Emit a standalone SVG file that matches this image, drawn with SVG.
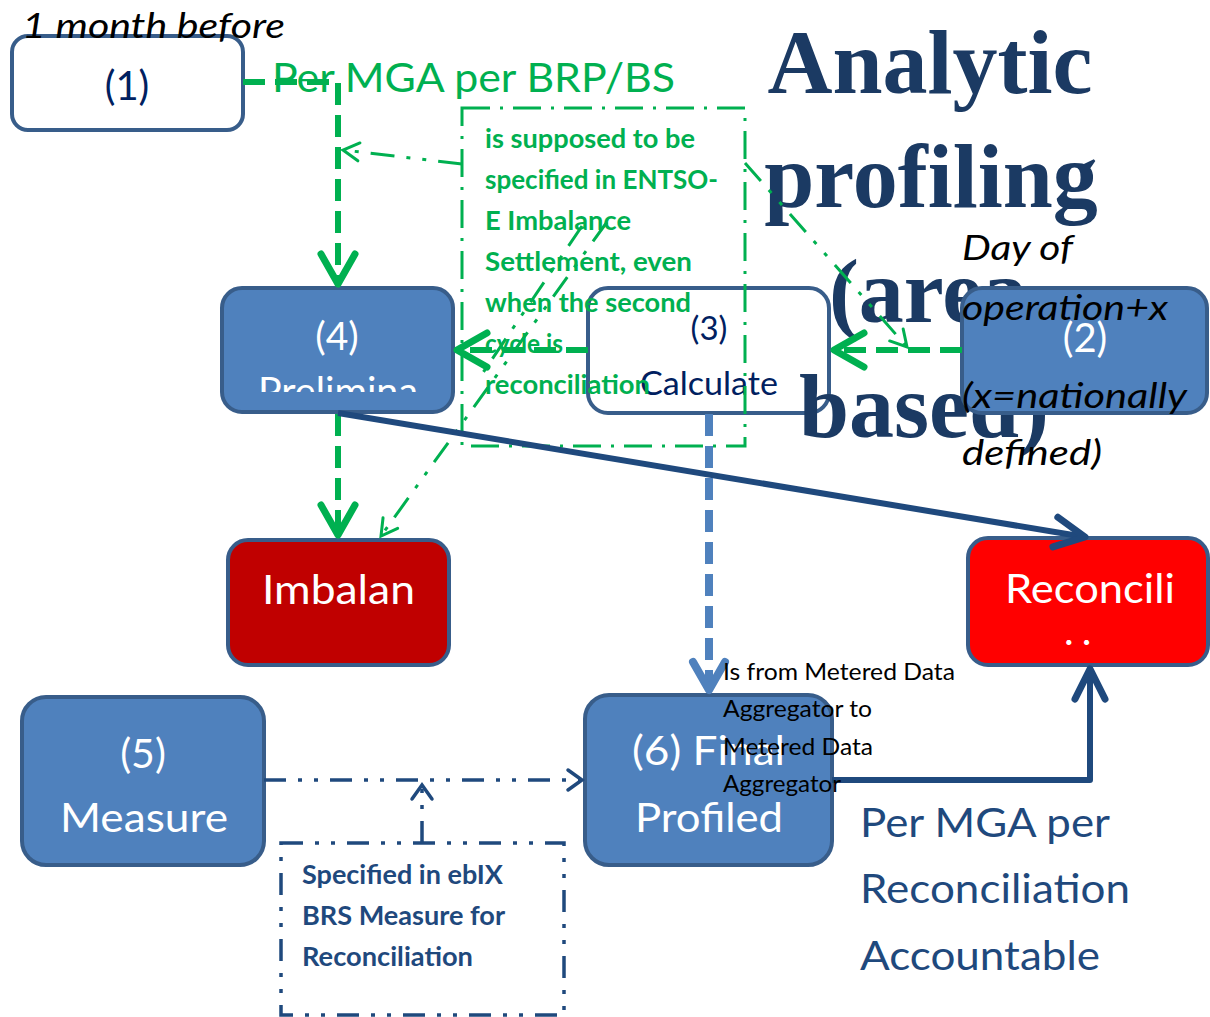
<svg xmlns="http://www.w3.org/2000/svg" width="1210" height="1017" viewBox="0 0 1210 1017">
<style>
.box{stroke:#385d8a;stroke-width:4}
.blue{fill:#4f81bd}
.wht{fill:#ffffff}
.t{font-family:Lato,"Open Sans","Liberation Sans",sans-serif}
.w{fill:#ffffff}
.nv{fill:#002060}
.gb{font-family:Lato,"Open Sans","Liberation Sans",sans-serif;font-weight:bold;font-size:26px;fill:#00b050}
.nb{font-family:Lato,"Open Sans","Liberation Sans",sans-serif;font-weight:bold;font-size:26px;fill:#1f497d}
.it{font-family:Lato,"Open Sans","Liberation Sans",sans-serif;font-style:italic;font-size:34px;fill:#000000}
.title{font-family:"Liberation Serif","Times New Roman",serif;font-weight:bold;font-size:90px;fill:#1b3a63}
.gthick{fill:none;stroke:#00b050;stroke-width:6;stroke-dasharray:22 10}
.gthin{fill:none;stroke:#00b050;stroke-width:3;stroke-dasharray:24 12 4 12 4 12}
.nthick{fill:none;stroke:#1f497d;stroke-width:6;stroke-linejoin:round}
.nthin{fill:none;stroke:#1f497d;stroke-width:3.5;stroke-dasharray:22 12 4 12 4 12}
.bdash{fill:none;stroke:#4f81bd;stroke-width:8;stroke-dasharray:22 10}
</style>
<defs>
<marker id="gA" markerUnits="userSpaceOnUse" viewBox="-40 -25 45 50" refX="0" refY="0" markerWidth="45" markerHeight="50" orient="auto" overflow="visible">
<path d="M-30,-17 L0,0 L-30,17" fill="none" stroke="#00b050" stroke-width="7" stroke-linecap="round" stroke-linejoin="round"/>
</marker>
<marker id="gS" markerUnits="userSpaceOnUse" viewBox="-20 -12 25 24" refX="0" refY="0" markerWidth="25" markerHeight="24" orient="auto" overflow="visible">
<path d="M-16,-9 L0,0 L-16,9" fill="none" stroke="#00b050" stroke-width="3" stroke-linecap="round"/>
</marker>
<marker id="nA" markerUnits="userSpaceOnUse" viewBox="-40 -25 45 50" refX="0" refY="0" markerWidth="45" markerHeight="50" orient="auto" overflow="visible">
<path d="M-30,-15 L0,0 L-30,15" fill="none" stroke="#1f497d" stroke-width="7" stroke-linecap="round" stroke-linejoin="round"/>
</marker>
<marker id="bA" markerUnits="userSpaceOnUse" viewBox="-40 -25 45 50" refX="0" refY="0" markerWidth="45" markerHeight="50" orient="auto" overflow="visible">
<path d="M-28,-16 L0,0 L-28,16" fill="none" stroke="#4f81bd" stroke-width="8" stroke-linecap="round" stroke-linejoin="round"/>
</marker>
<marker id="nS" markerUnits="userSpaceOnUse" viewBox="-20 -12 25 24" refX="0" refY="0" markerWidth="25" markerHeight="24" orient="auto" overflow="visible">
<path d="M-14,-10 L0,0 L-14,10" fill="none" stroke="#1f497d" stroke-width="3.5" stroke-linecap="round"/>
</marker>
<clipPath id="clip4"><rect x="222" y="288" width="231" height="104"/></clipPath>
</defs>

<g id="node-1">
<rect class="box wht" x="12" y="36" width="231" height="94" rx="16"/>
<text class="t nv" x="127" y="100" font-size="40" text-anchor="middle">(1)</text>
</g>

<g id="node-4">
<rect class="box blue" x="222" y="288" width="231" height="124" rx="20"/>
<text class="t w" x="337" y="350" font-size="39" text-anchor="middle">(4)</text>
<text class="t w" x="258" y="405" font-size="38" textLength="160" lengthAdjust="spacingAndGlyphs" clip-path="url(#clip4)">Prelimina</text>
</g>

<g id="node-3">
<rect class="box wht" x="588" y="288" width="241" height="125" rx="20"/>
<text class="t nv" x="709" y="340" font-size="33" text-anchor="middle">(3)</text>
<text class="t nv" x="640" y="395" font-size="33" textLength="138" lengthAdjust="spacingAndGlyphs">Calculate</text>
</g>

<g id="title">
<text class="title" x="930" y="93" text-anchor="middle">Analytic</text>
<text class="title" x="931" y="207" text-anchor="middle">profiling</text>
<text class="title" x="928" y="322" text-anchor="middle">(area</text>
<text class="title" x="924" y="437" text-anchor="middle">based)</text>
</g>

<g id="node-2">
<rect class="box blue" x="962" y="288" width="245" height="125" rx="20"/>
<text class="t w" x="1085" y="352" font-size="40" text-anchor="middle">(2)</text>
</g>

<g id="node-imbalance">
<rect class="box" fill="#c00000" x="228" y="540" width="221" height="125" rx="20"/>
<text class="t w" x="262" y="604" font-size="41" textLength="153" lengthAdjust="spacingAndGlyphs">Imbalan</text>
</g>

<g id="node-reconciliation">
<rect class="box" fill="#ff0000" x="968" y="538" width="240" height="127" rx="20"/>
<text class="t w" x="1005" y="603" font-size="41" textLength="170" lengthAdjust="spacingAndGlyphs">Reconcili</text>
<text class="t w" x="1064" y="645" font-size="41" letter-spacing="8">..</text>
</g>

<g id="node-5">
<rect class="box blue" x="22" y="697" width="242" height="168" rx="24"/>
<text class="t w" x="143" y="768" font-size="41" text-anchor="middle">(5)</text>
<text class="t w" x="60" y="832" font-size="41" textLength="168" lengthAdjust="spacingAndGlyphs">Measure</text>
</g>

<g id="node-6">
<rect class="box blue" x="585" y="695" width="247" height="170" rx="24"/>
<text class="t w" x="632" y="765" font-size="41" textLength="153" lengthAdjust="spacingAndGlyphs">(6) Final</text>
<text class="t w" x="635" y="832" font-size="41" textLength="148" lengthAdjust="spacingAndGlyphs">Profiled</text>
</g>

<g id="note-entsoe">
<rect x="462" y="108" width="283" height="338" fill="none" stroke="#00b050" stroke-width="3" stroke-dasharray="28 10 3 10"/>
<text class="gb" x="485" y="148" textLength="210" lengthAdjust="spacingAndGlyphs">is supposed to be</text>
<text class="gb" x="485" y="189" textLength="233" lengthAdjust="spacingAndGlyphs">specified in ENTSO-</text>
<text class="gb" x="485" y="230" textLength="146" lengthAdjust="spacingAndGlyphs">E Imbalance</text>
<text class="gb" x="485" y="271" textLength="207" lengthAdjust="spacingAndGlyphs">Settlement, even</text>
<text class="gb" x="485" y="312" textLength="206" lengthAdjust="spacingAndGlyphs">when the second</text>
<text class="gb" x="485" y="353" textLength="78" lengthAdjust="spacingAndGlyphs">cycle is</text>
<text class="gb" x="485" y="394" textLength="165" lengthAdjust="spacingAndGlyphs">reconciliation</text>
</g>

<g id="note-ebix">
<rect x="281" y="843" width="283" height="172" fill="none" stroke="#1f497d" stroke-width="3.5" stroke-dasharray="22 12 4 12 4 12"/>
<text class="nb" x="302" y="884" textLength="201" lengthAdjust="spacingAndGlyphs">Specified in ebIX</text>
<text class="nb" x="302" y="925" textLength="203" lengthAdjust="spacingAndGlyphs">BRS Measure for</text>
<text class="nb" x="302" y="966" textLength="171" lengthAdjust="spacingAndGlyphs">Reconciliation</text>
</g>

<g id="connectors">
<path class="gthick" d="M243,82 L338,82 L338,284" marker-end="url(#gA)"/>
<path class="gthick" d="M588,350 L457,350" marker-end="url(#gA)"/>
<path class="gthick" d="M962,350 L834,350" marker-end="url(#gA)"/>
<path class="gthick" d="M338,414 L338,535" marker-end="url(#gA)"/>
<path class="gthin" d="M462,164 L343,150" marker-end="url(#gS)"/>
<path class="gthin" d="M745,163 L907,347" marker-end="url(#gS)"/>
<path class="gthin" d="M607,222 L381,536" marker-end="url(#gS)"/>
<path class="gthin" d="M582,226 L478,380"/>
<path class="nthick" d="M338,413 L1085,537" marker-end="url(#nA)"/>
<path class="bdash" d="M709,414 L709,690" marker-end="url(#bA)"/>
<path class="nthick" d="M832,780 L1090,780 L1090,669" marker-end="url(#nA)"/>
<path class="nthin" d="M264,780 L582,780" marker-end="url(#nS)"/>
<path class="nthin" d="M422,843 L422,785" marker-end="url(#nS)"/>
</g>

<g id="labels">
<text class="it" x="22" y="38" textLength="263" lengthAdjust="spacingAndGlyphs">1 month before</text>
<text class="t" x="272" y="92" font-size="41" fill="#00b050" textLength="403" lengthAdjust="spacingAndGlyphs">Per MGA per BRP/BS</text>
<text class="it" x="962" y="260" textLength="111" lengthAdjust="spacingAndGlyphs">Day of</text>
<text class="it" x="962" y="320" textLength="206" lengthAdjust="spacingAndGlyphs">operation+x</text>
<text class="it" x="962" y="408" textLength="225" lengthAdjust="spacingAndGlyphs">(x=nationally</text>
<text class="it" x="962" y="465" textLength="140" lengthAdjust="spacingAndGlyphs">defined)</text>
<text class="t" x="723" y="680" font-size="23" fill="#000" textLength="232" lengthAdjust="spacingAndGlyphs">Is from Metered Data</text>
<text class="t" x="723" y="717" font-size="23" fill="#000" textLength="149" lengthAdjust="spacingAndGlyphs">Aggregator to</text>
<text class="t" x="723" y="755" font-size="23" fill="#000" textLength="150" lengthAdjust="spacingAndGlyphs">Metered Data</text>
<text class="t" x="723" y="792" font-size="23" fill="#000" textLength="118" lengthAdjust="spacingAndGlyphs">Aggregator</text>
<text class="t" x="860" y="837" font-size="41" fill="#1f497d" textLength="250" lengthAdjust="spacingAndGlyphs">Per MGA per</text>
<text class="t" x="860" y="903" font-size="41" fill="#1f497d" textLength="270" lengthAdjust="spacingAndGlyphs">Reconciliation</text>
<text class="t" x="860" y="970" font-size="41" fill="#1f497d" textLength="240" lengthAdjust="spacingAndGlyphs">Accountable</text>
</g>
</svg>
